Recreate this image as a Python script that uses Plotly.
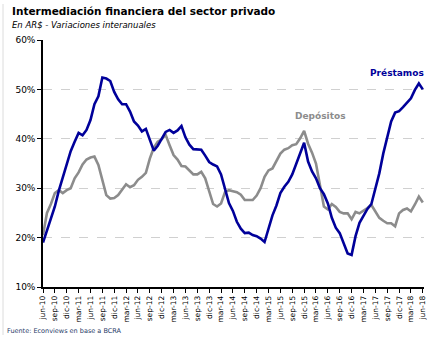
import plotly.graph_objects as go

months = ["jun", "sep", "dic", "mar"]
tick_labels = []
yr = 10
for k in range(33):
    m = months[k % 4]
    if m == "mar":
        yr += 1
    tick_labels.append(f"{m}-{yr:02d}")

y_tickvals = [10, 20, 30, 40, 50, 60]
y_ticktext = ["10%", "20%", "30%", "40%", "50%", "60%"]

prestamos = [19.0, 21.5, 24.0, 26.3, 29.5, 32.3, 35.0, 37.5, 39.4, 41.2,
             40.7, 41.8, 43.8, 47.0, 48.6, 52.4, 52.2, 51.7, 49.5, 48.0,
             47.0, 47.0, 45.5, 43.5, 42.7, 41.5, 42.0, 40.0, 37.6, 38.6,
             40.0, 41.4, 41.8, 41.2, 41.7, 42.6, 40.3, 38.8, 37.9, 37.9,
             37.8, 36.6, 35.3, 34.8, 34.4, 32.8, 29.8, 27.0, 25.4, 23.2,
             21.8, 20.9, 21.0, 20.5, 20.3, 19.8, 19.1, 22.0, 24.5, 26.5,
             29.0, 30.3, 31.3, 32.8, 34.8, 37.0, 39.2, 35.4, 33.4, 32.0,
             30.0, 28.8, 26.9, 24.0, 22.0, 20.9, 19.0, 16.8, 16.5, 20.3,
             23.0, 24.5, 25.8, 26.8, 29.8, 33.0, 37.0, 40.5, 43.5, 45.3,
             45.6, 46.4, 47.2, 48.2, 49.9, 51.2, 50.0]

depositos = [20.5, 25.0, 26.8, 29.0, 29.6, 29.0, 29.6, 30.0, 32.0, 33.2,
             34.8, 35.8, 36.2, 36.4, 34.7, 31.8, 28.6, 27.9, 28.0, 28.6,
             29.7, 30.8, 30.2, 30.6, 31.7, 32.3, 33.1, 36.0, 38.2, 39.4,
             39.9, 40.8, 38.7, 36.7, 35.8, 34.5, 34.4, 33.5, 32.8, 32.8,
             33.3, 32.0, 29.6, 26.8, 26.3, 26.9, 29.2, 29.6, 29.4, 29.2,
             28.7, 27.6, 27.6, 27.6, 28.5, 30.0, 32.3, 33.6, 34.0, 35.5,
             37.0, 37.8, 38.1, 38.7, 38.9, 40.1, 41.6, 39.0, 37.2, 35.0,
             30.5, 26.3, 25.7, 26.8, 26.2, 25.2, 24.9, 24.9, 23.7, 25.2,
             24.9, 25.4, 26.0, 26.6, 25.3, 24.0, 23.4, 22.9, 22.9, 22.3,
             24.9, 25.6, 25.9, 25.3, 26.7, 28.3, 27.1]

x = list(range(len(prestamos)))
tickvals = list(range(0, len(prestamos), 3))

font = "DejaVu Sans"
W, H = 444, 339
ML, MR, MT, MB = 43, 20, 40, 52
PW, PH = W - ML - MR, H - MT - MB

def px(xp):
    return (xp - ML) / PW

def py(yp):
    return (H - MB - yp) / PH

fig = go.Figure()
fig.add_trace(go.Scatter(x=x, y=depositos, mode="lines", name="Depósitos",
                         line=dict(color="#8c8c8c", width=2.6)))
fig.add_trace(go.Scatter(x=x, y=prestamos, mode="lines", name="Préstamos",
                         line=dict(color="#00009a", width=2.6)))

fig.update_layout(
    width=W, height=H,
    margin=dict(l=ML, r=MR, t=MT, b=MB),
    paper_bgcolor="white", plot_bgcolor="white",
    showlegend=False,
    font=dict(family=font, size=9, color="black"),
    xaxis=dict(range=[0, 96.3], tickmode="array", tickvals=tickvals,
               ticktext=tick_labels, tickangle=-90, showgrid=False,
               showline=True, linecolor="black", linewidth=1.5,
               ticks="outside", ticklen=4, tickcolor="black",
               tickfont=dict(size=7.5, family=font), zeroline=False),
    yaxis=dict(range=[10, 60], tickmode="array", tickvals=y_tickvals,
               ticktext=y_ticktext, showgrid=True, gridcolor="#d0d0d0",
               griddash="dash", gridwidth=1,
               showline=True, linecolor="black", linewidth=1.5,
               ticks="outside", ticklen=4, tickcolor="black",
               tickfont=dict(size=9, family=font), zeroline=False),
)

fig.add_shape(type="line", xref="paper", yref="paper",
              x0=px(3), x1=px(3), y0=py(4), y1=py(335),
              line=dict(color="#dcdcdc", width=1))

fig.add_annotation(text="<b>Intermediación financiera del sector privado</b>",
                   xref="paper", yref="paper", x=px(10), y=py(11),
                   xanchor="left", yanchor="middle", showarrow=False,
                   font=dict(size=10.5, family=font, color="black"))
fig.add_annotation(text="<i>En AR$ - Variaciones interanuales</i>",
                   xref="paper", yref="paper", x=px(10), y=py(25),
                   xanchor="left", yanchor="middle", showarrow=False,
                   font=dict(size=8.5, family=font, color="black"))
fig.add_annotation(text="Fuente: Econviews en base a BCRA",
                   xref="paper", yref="paper", x=px(5), y=py(331),
                   xanchor="left", yanchor="middle", showarrow=False,
                   font=dict(size=6.5, family=font, color="#1f3a68"))
fig.add_annotation(text="<b>Préstamos</b>", x=89.5, y=53.4,
                   xanchor="center", yanchor="middle", showarrow=False,
                   font=dict(size=9, family=font, color="#00009a"))
fig.add_annotation(text="<b>Depósitos</b>", x=70, y=44.6,
                   xanchor="center", yanchor="middle", showarrow=False,
                   font=dict(size=9, family=font, color="#8c8c8c"))

fig.write_html("out.html")
